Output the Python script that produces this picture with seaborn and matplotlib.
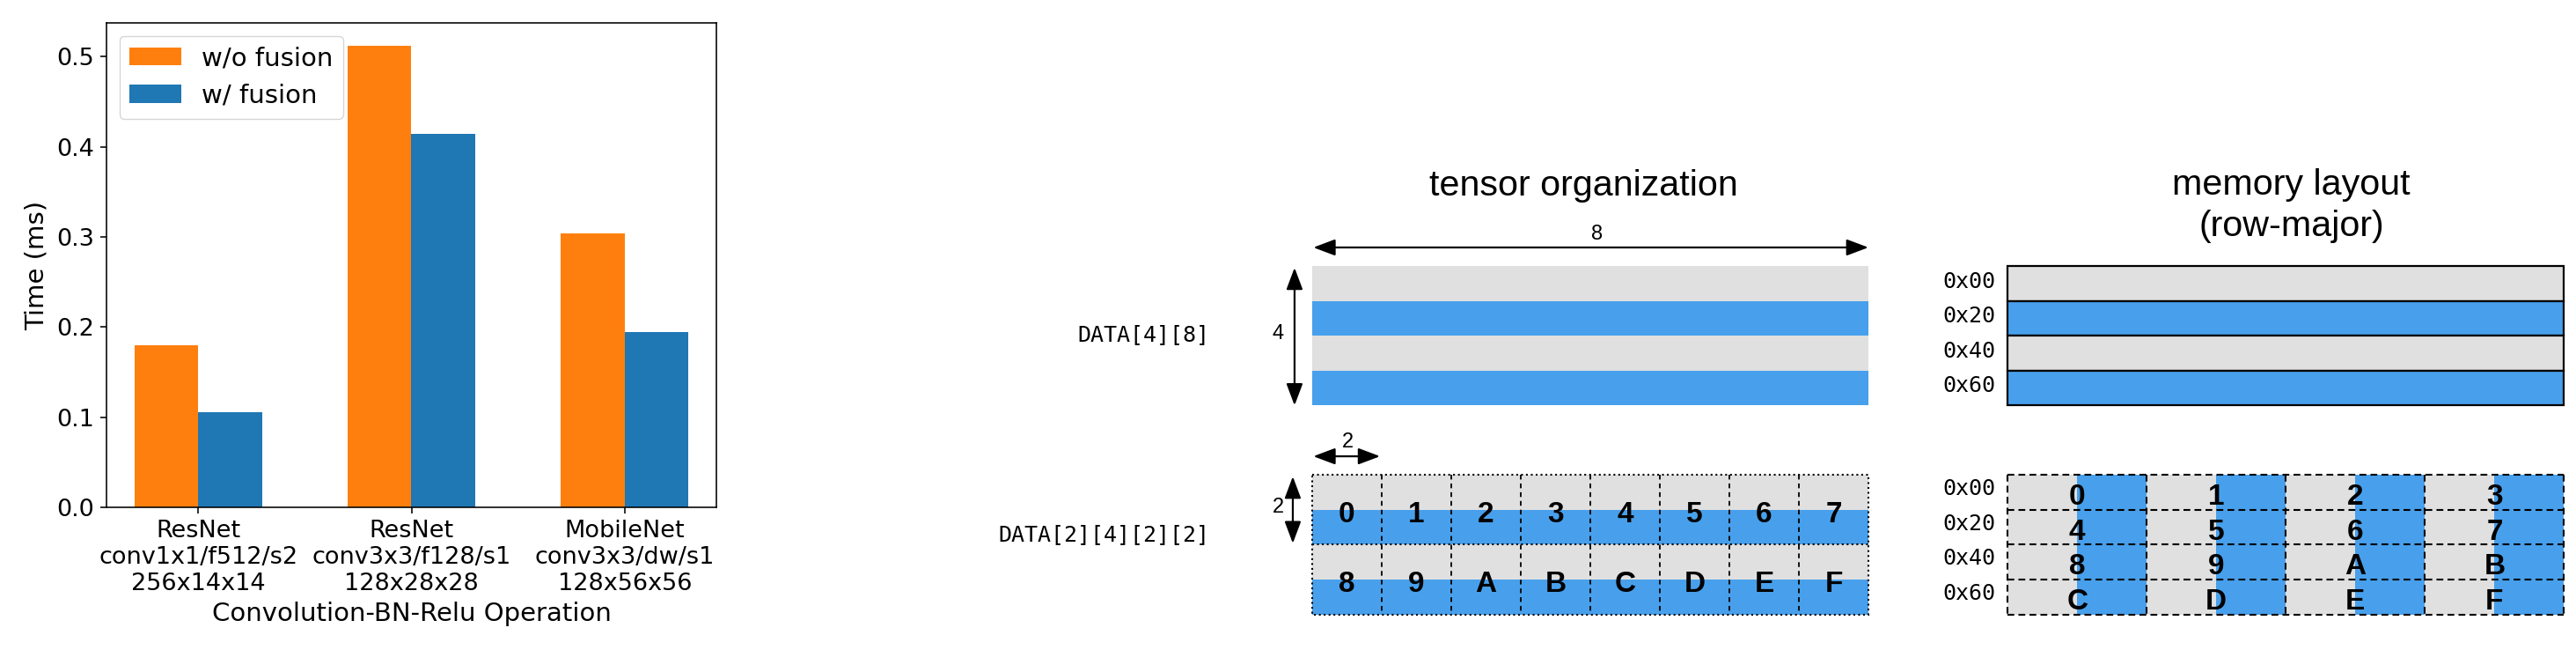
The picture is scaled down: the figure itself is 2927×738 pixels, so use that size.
import pandas as pd
import seaborn as sns
import matplotlib.pyplot as plt
from matplotlib.patches import Rectangle

# ---- bar chart data ----
operations = ["ResNet\nconv1x1/f512/s2\n256x14x14",
              "ResNet\nconv3x3/f128/s1\n128x28x28",
              "MobileNet\nconv3x3/dw/s1\n128x56x56"]
time_wo_fusion = [0.180, 0.512, 0.304]
time_w_fusion = [0.106, 0.414, 0.195]
series_names = ["w/o fusion", "w/ fusion"]

# ---- layout diagram data ----
n_rows = 4            # DATA[4][8]
n_cols = 8
tile = 2              # 2x2 tiles -> DATA[2][4][2][2]
addr_labels = ["0x00", "0x20", "0x40", "0x60"]
hex_digits = list("0123456789ABCDEF")

ORANGE, BLUE = "#ff7f0e", "#1f77b4"
GRAY, SKY = "#e0e0e0", "#48a0ec"

W, H = 2927, 738
fig = plt.figure(figsize=(W / 100, H / 100), dpi=100)

# ------------------------------------------------------------------ bar chart
ax = fig.add_axes([121 / W, 1 - 576 / H, 693 / W, 550 / H])
df = pd.DataFrame({
    "Operation": operations * 2,
    "Time": time_wo_fusion + time_w_fusion,
    "Fusion": [series_names[0]] * 3 + [series_names[1]] * 3,
})
sns.barplot(data=df, x="Operation", y="Time", hue="Fusion", hue_order=series_names,
            palette=[ORANGE, BLUE], width=0.6, saturation=1, errorbar=None, ax=ax)
ax.set_xlim(-0.43, 2.43)
ax.set_ylim(0, 0.5376)
ax.set_yticks([0.0, 0.1, 0.2, 0.3, 0.4, 0.5])
ax.set_xlabel("Convolution-BN-Relu Operation", fontsize=21, labelpad=5)
ax.set_ylabel("Time (ms)", fontsize=21, labelpad=6)
ax.tick_params(labelsize=19.5, length=5.2, width=1.15, pad=5)
for s in ax.spines.values():
    s.set_linewidth(1.15)
ax.legend(loc="upper left", fontsize=21)

# ------------------------------------------------------------------ diagram
# one unit = one element of the tile (79 px in the picture)
u, ox, oy = 79.04, 1490.7, 302.3
dx = fig.add_axes([1100 / W, 0, (W - 1100) / W, 1])
dx.set_xlim((1100 - ox) / u, (W - ox) / u)
dx.set_ylim((H - oy) / u, -oy / u)
dx.axis("off")

sans = "Liberation Sans"
mono = "DejaVu Sans Mono"
row_h = tile / n_rows * 1.0  # 0.5
mem_x0 = n_cols + 2
bot_y0 = tile + 1

# titles
dx.text(n_cols / 2 - 0.1, -1.02, "tensor organization", ha="center", va="baseline",
        family=sans, fontsize=29.7)
dx.text(mem_x0 + n_cols / 2 + 0.08, -1.03, "memory layout", ha="center", va="baseline",
        family=sans, fontsize=29.7)
dx.text(mem_x0 + n_cols / 2 + 0.08, -0.434, "(row-major)", ha="center", va="baseline",
        family=sans, fontsize=29.7)

# top: DATA[4][8] as stripes
for r in range(n_rows):
    dx.add_patch(Rectangle((0, r * row_h), n_cols, row_h, fc=[GRAY, SKY][r % 2], ec="none"))
    dx.add_patch(Rectangle((mem_x0, r * row_h), n_cols, row_h, fc=[GRAY, SKY][r % 2],
                           ec="black", lw=1.6))
    dx.text(mem_x0 - 0.17, r * row_h + row_h / 2 - 0.03, addr_labels[r], ha="right",
            va="center", family=mono, fontsize=18)

dx.text(-1.47, 0.98, "DATA[4][8]", ha="right", va="center", family=mono, fontsize=18)

arrow = dict(arrowstyle="<|-|>,head_length=0.4,head_width=0.15", lw=1.6, color="black",
             mutation_scale=38, shrinkA=0, shrinkB=0)
dx.annotate("", xy=(n_cols, -0.27), xytext=(0.02, -0.27), arrowprops=arrow)
dx.text(4.1, -0.46, str(n_cols), ha="center", va="center", family=sans, fontsize=17)
dx.annotate("", xy=(-0.25, 2.0), xytext=(-0.25, 0.02), arrowprops=arrow)
dx.text(-0.49, 0.97, str(n_rows), ha="center", va="center", family=sans, fontsize=17)

# bottom: DATA[2][4][2][2] tiles
n_tile_rows = n_rows // tile
for R in range(n_tile_rows):
    for C in range(n_cols):
        y = bot_y0 + R
        dx.add_patch(Rectangle((C, y), 1, 0.5, fc=GRAY, ec="none"))
        dx.add_patch(Rectangle((C, y + 0.5), 1, 0.5, fc=SKY, ec="none"))
        dx.text(C + 0.5, y + 0.57, hex_digits[R * n_cols + C], ha="center", va="center",
                family=sans, fontweight="bold", fontsize=24)
dot = dict(color="black", lw=1.5, ls=":")
dash = dict(color="black", lw=1.3, ls=(0, (3, 2.5)))
dx.add_patch(Rectangle((0, bot_y0), n_cols, n_tile_rows, fill=False, ec="black", lw=1.5, ls=":"))
dx.plot([0, n_cols], [bot_y0 + 1, bot_y0 + 1], **dot)
for C in range(1, n_cols):
    dx.plot([C, C], [bot_y0, bot_y0 + n_tile_rows], **dash)

dx.text(-1.47, 3.86, "DATA[2][4][2][2]", ha="right", va="center", family=mono, fontsize=18)
dx.annotate("", xy=(0.98, 2.73), xytext=(0.02, 2.73), arrowprops=arrow)
dx.text(0.51, 2.53, str(tile), ha="center", va="center", family=sans, fontsize=17)
dx.annotate("", xy=(-0.275, 3.98), xytext=(-0.275, 3.02), arrowprops=arrow)
dx.text(-0.49, 3.46, str(tile), ha="center", va="center", family=sans, fontsize=17)

# bottom memory layout: each row holds 4 tiles
tiles_per_row = n_cols // tile
for r in range(n_rows):
    y = bot_y0 + r * row_h
    for c in range(tiles_per_row):
        x = mem_x0 + c * tile
        dx.add_patch(Rectangle((x, y), 1, row_h, fc=GRAY, ec="none"))
        dx.add_patch(Rectangle((x + 1, y), 1, row_h, fc=SKY, ec="none"))
        dx.text(x + 1, y + row_h / 2 + 0.07, hex_digits[r * tiles_per_row + c], ha="center",
                va="center", family=sans, fontweight="bold", fontsize=24)
    dx.text(mem_x0 - 0.17, y + row_h / 2 - 0.05, addr_labels[r], ha="right", va="center",
            family=mono, fontsize=18)
mdash = dict(color="black", lw=1.5, ls=(0, (3.7, 2.3)))
for r in range(n_rows + 1):
    dx.plot([mem_x0, mem_x0 + n_cols], [bot_y0 + r * row_h] * 2, **mdash)
for c in range(tiles_per_row + 1):
    dx.plot([mem_x0 + c * tile] * 2, [bot_y0, bot_y0 + n_tile_rows], **mdash)

fig.savefig("out.png", dpi=100)
